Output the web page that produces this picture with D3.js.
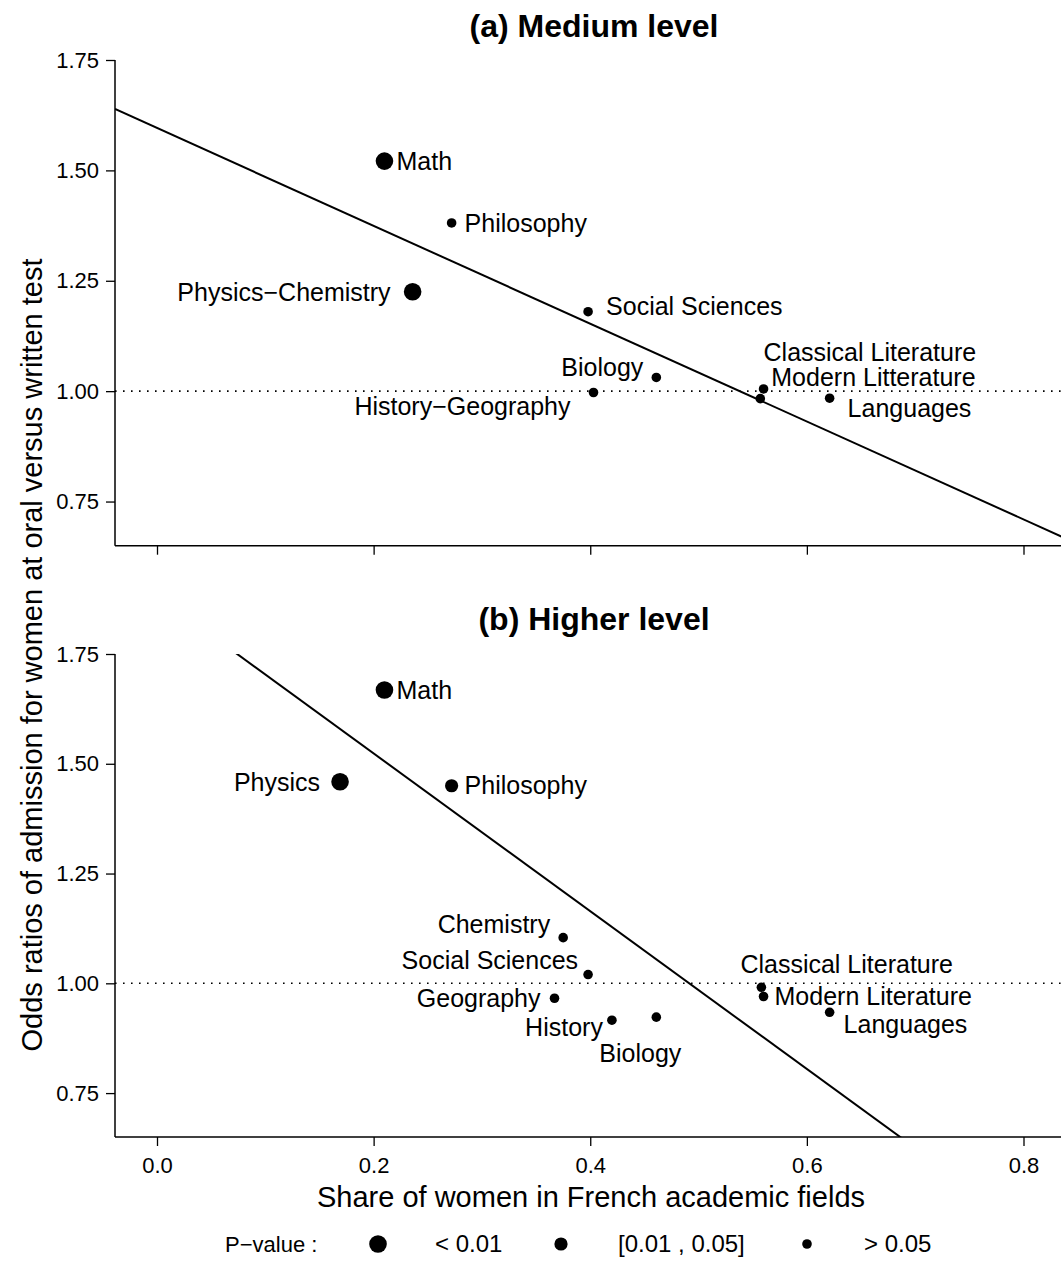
<!DOCTYPE html>
<html>
<head>
<meta charset="utf-8">
<script src="https://cdn.jsdelivr.net/npm/d3@7"></script>
<style>
  html, body { margin: 0; padding: 0; background: #fff; }
  svg { display: block; font-family: "Liberation Sans", Arial, Helvetica, sans-serif; }
</style>
</head>
<body>
<svg id="chart" width="1061" height="1277"></svg>
<script>
// ---------------- Data ----------------
const xTicks = [0.0, 0.2, 0.4, 0.6, 0.8];
const yTicks = [0.75, 1.00, 1.25, 1.50, 1.75];

// Panel (a) Medium level
const fieldsA = ["Math", "Philosophy", "Physics\u2212Chemistry", "Social Sciences", "Biology",
                 "History\u2212Geography", "Classical Literature", "Modern Litterature", "Languages"];
const shareA  = [0.210, 0.272, 0.236, 0.398, 0.461, 0.403, 0.560, 0.557, 0.621];
const oddsA   = [1.521, 1.381, 1.225, 1.180, 1.031, 0.997, 1.005, 0.983, 0.984];
const pClassA = ["lt01", "gt05", "lt01", "gt05", "gt05", "gt05", "gt05", "gt05", "gt05"];
const fitA    = { intercept: 1.596, slope: -1.108 };

// Panel (b) Higher level
const fieldsB = ["Math", "Physics", "Philosophy", "Chemistry", "Social Sciences", "Geography",
                 "History", "Biology", "Classical Literature", "Modern Literature", "Languages"];
const shareB  = [0.210, 0.169, 0.272, 0.375, 0.398, 0.367, 0.420, 0.461, 0.558, 0.560, 0.621];
const oddsB   = [1.668, 1.459, 1.450, 1.104, 1.020, 0.966, 0.916, 0.923, 0.991, 0.970, 0.934];
const pClassB = ["lt01", "lt01", "mid", "gt05", "gt05", "gt05", "gt05", "gt05", "gt05", "gt05", "gt05"];
const fitB    = { intercept: 1.883, slope: -1.797 };

const pClasses = ["lt01", "mid", "gt05"];
const pLabels  = ["< 0.01", "[0.01 , 0.05]", "> 0.05"];

// ---------------- Layout / style (not data) ----------------
const radius = { lt01: 8.8, mid: 6.6, gt05: 4.8 };
// label placement: [dx, dy, anchor] relative to point
const placeA = [
  [12, 0, "start"], [13, 0, "start"], [-22, 0, "end"], [18, -5, "start"], [-13, -10, "end"],
  [-23, 14, "end"], [0, -37, "start"], [11, -21, "start"], [18, 10, "start"]
];
const placeB = [
  [12, 0, "start"], [-20, 0, "end"], [13, 0, "start"], [-13, -13, "end"], [-10, -14, "end"],
  [-14, 0, "end"], [-9, 7, "end"], [-57, 36, "start"], [-21, -23, "start"], [11, 0, "start"],
  [14, 12, "start"]
];

const svg = d3.select("#chart");
const xLeft = 115, xRight = 1070;

const x = d3.scaleLinear().domain([0, 0.8]).range([157, 1023.5]);

function panel(opts) {
  const { top, bottom, title, titleY, fields, share, odds, pClass, fit, place, showXLabels, id } = opts;
  const y = d3.scaleLinear().domain([0.65, 1.75]).range([bottom, top]);
  const g = svg.append("g");

  g.append("clipPath").attr("id", id)
    .append("rect").attr("x", xLeft).attr("y", top).attr("width", xRight - xLeft).attr("height", bottom - top);

  // title
  g.append("text").attr("x", 594).attr("y", titleY).attr("text-anchor", "middle")
    .attr("font-size", 32).attr("font-weight", "bold").text(title);

  // reference dotted line at 1
  g.append("line").attr("x1", xLeft).attr("x2", xRight).attr("y1", y(1)).attr("y2", y(1))
    .attr("stroke", "#000").attr("stroke-width", 1.6).attr("stroke-dasharray", "1.6,6.4");

  // regression line
  const x0 = x.invert(xLeft), x1 = x.invert(xRight);
  g.append("line").attr("clip-path", `url(#${id})`)
    .attr("x1", x(x0)).attr("y1", y(fit.intercept + fit.slope * x0))
    .attr("x2", x(x1)).attr("y2", y(fit.intercept + fit.slope * x1))
    .attr("stroke", "#000").attr("stroke-width", 2);

  // box lines (L shape)
  g.append("line").attr("x1", xLeft).attr("x2", xLeft).attr("y1", top).attr("y2", bottom)
    .attr("stroke", "#000").attr("stroke-width", 1.5);
  g.append("line").attr("x1", xLeft).attr("x2", xRight).attr("y1", bottom).attr("y2", bottom)
    .attr("stroke", "#000").attr("stroke-width", 1.5);

  // y axis
  const yAx = g.append("g").attr("transform", `translate(${xLeft},0)`)
    .call(d3.axisLeft(y).tickValues(yTicks).tickFormat(d3.format(".2f")).tickSize(9).tickPadding(7));
  yAx.select(".domain").remove();
  yAx.selectAll("line").attr("stroke-width", 1.3);
  yAx.selectAll("text").attr("font-size", 22).attr("font-family", "Liberation Sans, Arial, sans-serif").attr("fill", "#000");

  // x axis
  const xAx = g.append("g").attr("transform", `translate(0,${bottom})`)
    .call(d3.axisBottom(x).tickValues(xTicks).tickFormat(showXLabels ? d3.format(".1f") : () => "").tickSize(9).tickPadding(11));
  xAx.select(".domain").remove();
  xAx.selectAll("line").attr("stroke-width", 1.3);
  xAx.selectAll("text").attr("font-size", 22).attr("font-family", "Liberation Sans, Arial, sans-serif").attr("fill", "#000");

  // points
  const data = fields.map((f, i) => ({ f, s: share[i], o: odds[i], p: pClass[i], pl: place[i] }));
  g.selectAll("circle.pt").data(data).enter().append("circle")
    .attr("cx", d => x(d.s)).attr("cy", d => y(d.o)).attr("r", d => radius[d.p]).attr("fill", "#000");

  g.selectAll("text.lbl").data(data).enter().append("text")
    .attr("x", d => x(d.s) + d.pl[0]).attr("y", d => y(d.o) + d.pl[1])
    .attr("dy", "0.35em").attr("text-anchor", d => d.pl[2])
    .attr("font-size", 25).text(d => d.f);
}

panel({ id: "clipA", top: 60, bottom: 545.7, title: "(a) Medium level", titleY: 37,
        fields: fieldsA, share: shareA, odds: oddsA, pClass: pClassA, fit: fitA, place: placeA, showXLabels: false });
panel({ id: "clipB", top: 654, bottom: 1137, title: "(b) Higher level", titleY: 630,
        fields: fieldsB, share: shareB, odds: oddsB, pClass: pClassB, fit: fitB, place: placeB, showXLabels: true });

// axis titles
svg.append("text").attr("transform", "translate(42,655) rotate(-90)").attr("text-anchor", "middle")
  .attr("font-size", 29).text("Odds ratios of admission for women at oral versus written test");
svg.append("text").attr("x", 591).attr("y", 1207).attr("text-anchor", "middle")
  .attr("font-size", 29).text("Share of women in French academic fields");

// legend
const legY = 1244;
const leg = svg.append("g");
leg.append("text").attr("x", 225).attr("y", legY).attr("dy", "0.35em").attr("font-size", 22).text("P\u2212value :");
const legDotX = [378, 561, 807];
pClasses.forEach((c, i) => {
  leg.append("circle").attr("cx", legDotX[i]).attr("cy", legY).attr("r", radius[c]).attr("fill", "#000");
  leg.append("text").attr("x", legDotX[i] + 57).attr("y", legY).attr("dy", "0.35em").attr("font-size", 24).text(pLabels[i]);
});
</script>
</body>
</html>
